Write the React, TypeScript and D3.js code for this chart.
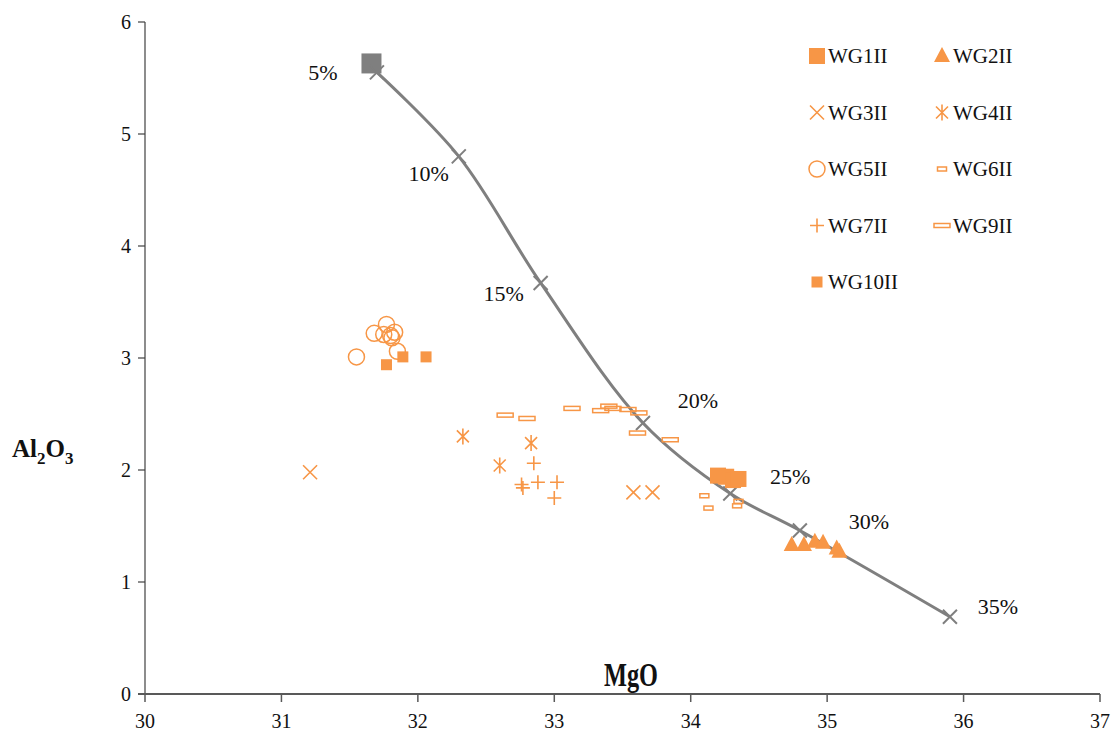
import React from "react";
import * as d3 from "d3";

// ---- Data ----
const xTicks = [30, 31, 32, 33, 34, 35, 36, 37];
const yTicks = [0, 1, 2, 3, 4, 5, 6];

const modelMgO = [31.7, 32.3, 32.9, 33.65, 34.29, 34.8, 35.9];
const modelAl2O3 = [5.55, 4.8, 3.67, 2.42, 1.79, 1.46, 0.69];
const modelLabels = ["5%", "10%", "15%", "20%", "25%", "30%", "35%"];
const sourcePoint = [31.66, 5.63];

const wg1MgO = [34.2, 34.26, 34.31, 34.35];
const wg1Al = [1.95, 1.94, 1.91, 1.92];
const wg2MgO = [34.74, 34.83, 34.91, 34.97, 35.07, 35.09];
const wg2Al = [1.33, 1.33, 1.36, 1.35, 1.3, 1.27];
const wg3MgO = [31.21, 33.58, 33.72];
const wg3Al = [1.98, 1.8, 1.8];
const wg4MgO = [32.33, 32.6, 32.83];
const wg4Al = [2.3, 2.04, 2.24];
const wg5MgO = [31.55, 31.68, 31.77, 31.75, 31.8, 31.83, 31.81, 31.85];
const wg5Al = [3.01, 3.22, 3.3, 3.21, 3.2, 3.23, 3.18, 3.06];
const wg6MgO = [34.1, 34.13, 34.35, 34.34];
const wg6Al = [1.77, 1.66, 1.72, 1.68];
const wg7MgO = [32.85, 32.76, 32.77, 32.88, 33.02, 33.0];
const wg7Al = [2.06, 1.87, 1.84, 1.89, 1.89, 1.75];
const wg9MgO = [32.64, 32.8, 33.13, 33.34, 33.4, 33.43, 33.54, 33.62, 33.61, 33.85];
const wg9Al = [2.49, 2.46, 2.55, 2.53, 2.57, 2.55, 2.54, 2.51, 2.33, 2.27];
const wg10MgO = [31.77, 31.89, 32.06];
const wg10Al = [2.94, 3.01, 3.01];

const seriesNames = ["WG1II", "WG2II", "WG3II", "WG4II", "WG5II", "WG6II", "WG7II", "WG9II", "WG10II"];

// ---- Layout / style ----
const W = 1117;
const H = 735;
const ORANGE = "#f79646";
const GRAY = "#7f7f7f";
const FONT = "'Liberation Serif', 'Times New Roman', serif";
const labelOffsets = [[-54, 0], [-30, 17], [-37, 10], [55, -23], [60, -17], [69, -9], [48, -10]];

const x = d3.scaleLinear().domain([30, 37]).range([145, 1100]);
const y = d3.scaleLinear().domain([0, 6]).range([694, 22]);

type Sym = "bigsq" | "tri" | "x" | "ast" | "circ" | "smrect" | "plus" | "rect" | "smsq";

function Marker({ kind, cx, cy }: { kind: Sym; cx: number; cy: number }) {
  const s = 7;
  switch (kind) {
    case "bigsq":
      return <rect x={cx - 8} y={cy - 8} width={16} height={16} fill={ORANGE} />;
    case "smsq":
      return <rect x={cx - 5.5} y={cy - 5.5} width={11} height={11} fill={ORANGE} />;
    case "tri":
      return <path d={`M${cx},${cy - 9}L${cx + 8},${cy + 6}L${cx - 8},${cy + 6}Z`} fill={ORANGE} />;
    case "x":
      return (
        <path d={`M${cx - s},${cy - s}L${cx + s},${cy + s}M${cx - s},${cy + s}L${cx + s},${cy - s}`} stroke={ORANGE} strokeWidth={1.6} fill="none" />
      );
    case "ast":
      return (
        <path d={`M${cx - 6},${cy - 6}L${cx + 6},${cy + 6}M${cx - 6},${cy + 6}L${cx + 6},${cy - 6}M${cx},${cy - 8}L${cx},${cy + 8}`} stroke={ORANGE} strokeWidth={1.6} fill="none" />
      );
    case "circ":
      return <circle cx={cx} cy={cy} r={8} stroke={ORANGE} strokeWidth={1.5} fill="none" />;
    case "smrect":
      return <rect x={cx - 4.5} y={cy - 2} width={9} height={4} stroke={ORANGE} strokeWidth={1.5} fill="none" />;
    case "rect":
      return <rect x={cx - 8} y={cy - 2} width={16} height={4} stroke={ORANGE} strokeWidth={1.5} fill="none" />;
    case "plus":
      return (
        <path d={`M${cx - s},${cy}L${cx + s},${cy}M${cx},${cy - s}L${cx},${cy + s}`} stroke={ORANGE} strokeWidth={1.6} fill="none" />
      );
  }
  return null;
}

const seriesData: { name: string; kind: Sym; xs: number[]; ys: number[] }[] = [
  { name: seriesNames[4], kind: "circ", xs: wg5MgO, ys: wg5Al },
  { name: seriesNames[8], kind: "smsq", xs: wg10MgO, ys: wg10Al },
  { name: seriesNames[2], kind: "x", xs: wg3MgO, ys: wg3Al },
  { name: seriesNames[3], kind: "ast", xs: wg4MgO, ys: wg4Al },
  { name: seriesNames[6], kind: "plus", xs: wg7MgO, ys: wg7Al },
  { name: seriesNames[7], kind: "rect", xs: wg9MgO, ys: wg9Al },
  { name: seriesNames[5], kind: "smrect", xs: wg6MgO, ys: wg6Al },
  { name: seriesNames[1], kind: "tri", xs: wg2MgO, ys: wg2Al },
];

const legendItems: { name: string; kind: Sym; col: number; row: number }[] = [
  { name: seriesNames[0], kind: "bigsq", col: 0, row: 0 },
  { name: seriesNames[1], kind: "tri", col: 1, row: 0 },
  { name: seriesNames[2], kind: "x", col: 0, row: 1 },
  { name: seriesNames[3], kind: "ast", col: 1, row: 1 },
  { name: seriesNames[4], kind: "circ", col: 0, row: 2 },
  { name: seriesNames[5], kind: "smrect", col: 1, row: 2 },
  { name: seriesNames[6], kind: "plus", col: 0, row: 3 },
  { name: seriesNames[7], kind: "rect", col: 1, row: 3 },
  { name: seriesNames[8], kind: "smsq", col: 0, row: 4 },
];

export default function App() {
  const modelPts: [number, number][] = modelMgO.map((m, i) => [x(m), y(modelAl2O3[i])]);
  const line = d3.line().curve(d3.curveCatmullRom.alpha(0.5))(modelPts) || "";

  return (
    <svg width={W} height={H} style={{ position: "absolute", left: 0, top: 0, background: "#fff" }} fontFamily={FONT}>
      <rect width={W} height={H} fill="#fff" />
      {/* axes */}
      <line x1={x(30)} x2={x(30)} y1={y(0)} y2={y(6)} stroke="#404040" strokeWidth={1.2} />
      {yTicks.map((t) => (
        <g key={"y" + t}>
          <line x1={x(30) - 7} x2={x(30)} y1={y(t)} y2={y(t)} stroke="#404040" strokeWidth={1.2} />
          <text x={x(30) - 14} y={y(t)} dy="0.35em" textAnchor="end" fontSize={20} fill="#111">
            {t}
          </text>
        </g>
      ))}
      <line x1={x(30) - 7} x2={x(37)} y1={y(0)} y2={y(0)} stroke="#595959" strokeWidth={2} />
      {xTicks.map((t) => (
        <g key={"x" + t}>
          <line x1={x(t)} x2={x(t)} y1={y(0)} y2={y(0) + 8} stroke="#595959" strokeWidth={1.5} />
          <text x={x(t)} y={y(0) + 34} textAnchor="middle" fontSize={20} fill="#111">
            {t}
          </text>
        </g>
      ))}
      <text x={631} y={686} textAnchor="middle" fontSize={33} fontWeight="bold" fill="#111" textLength={54} lengthAdjust="spacingAndGlyphs">
        MgO
      </text>
      <text x={12} y={457} fontSize={25} fontWeight="bold" fill="#111">
        Al<tspan fontSize={17} dy={7}>2</tspan>
        <tspan dy={-7}>O</tspan>
        <tspan fontSize={17} dy={7}>3</tspan>
      </text>

      {/* model curve */}
      <path d={line} fill="none" stroke={GRAY} strokeWidth={3} />
      <rect x={x(sourcePoint[0]) - 10} y={y(sourcePoint[1]) - 10} width={20} height={20} fill={GRAY} />
      {modelPts.map(([px, py], i) => (
        <g key={"m" + i}>
          <path d={`M${px - 7},${py - 7}L${px + 7},${py + 7}M${px - 7},${py + 7}L${px + 7},${py - 7}`} stroke={GRAY} strokeWidth={2} />
          <text x={px + labelOffsets[i][0]} y={py + labelOffsets[i][1]} dy="0.35em" textAnchor="middle" fontSize={22} fill="#111">
            {modelLabels[i]}
          </text>
        </g>
      ))}

      {/* samples */}
      {seriesData.map((s) =>
        s.xs.map((v, i) => <Marker key={s.name + i} kind={s.kind} cx={x(v)} cy={y(s.ys[i])} />)
      )}
      {wg1MgO.map((v, i) => (
        <Marker key={"wg1" + i} kind="bigsq" cx={x(v)} cy={y(wg1Al[i])} />
      ))}

      {/* legend */}
      {legendItems.map((it) => {
        const mx = it.col === 0 ? 817 : 942;
        const my = 56 + it.row * 56.5;
        return (
          <g key={"lg" + it.name}>
            <Marker kind={it.kind} cx={mx} cy={my} />
            <text x={mx + 11} y={my} dy="0.35em" fontSize={21} fill="#111">
              {it.name}
            </text>
          </g>
        );
      })}
    </svg>
  );
}
